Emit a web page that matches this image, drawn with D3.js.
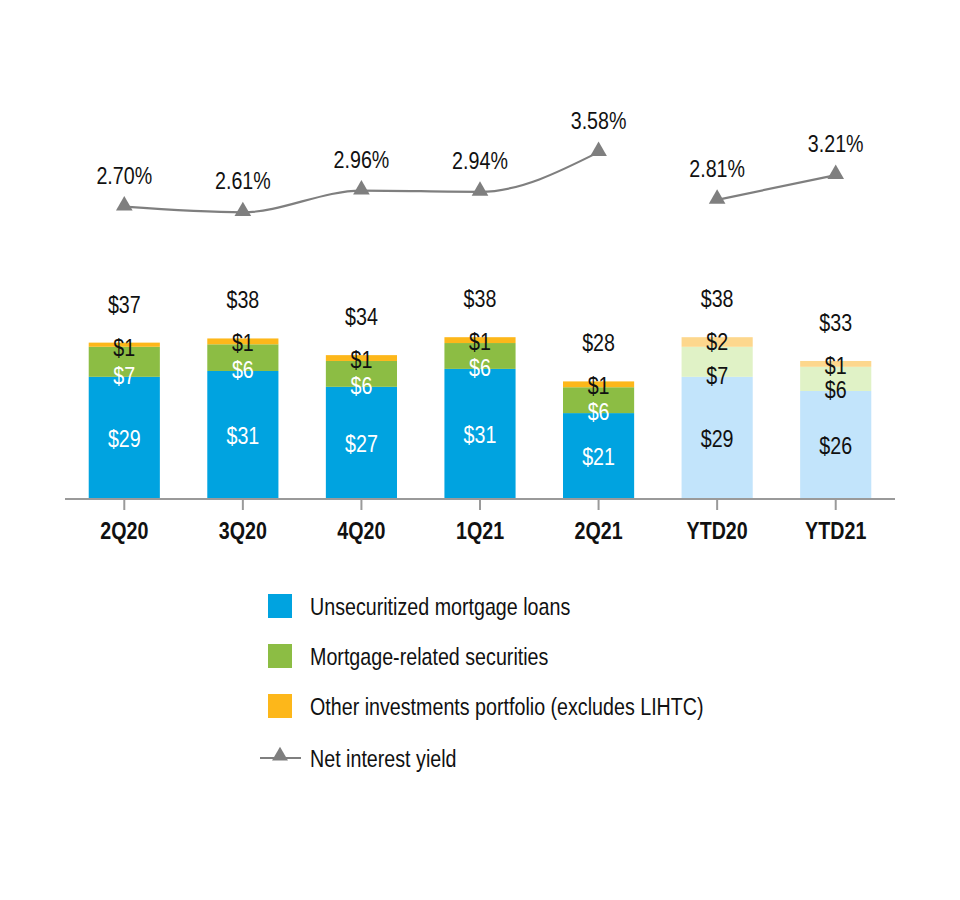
<!DOCTYPE html>
<html>
<head>
<meta charset="utf-8">
<script src="https://cdn.jsdelivr.net/npm/d3@7"></script>
<style>
  body { margin: 0; background: #fff; }
  svg text { font-family: "Liberation Sans", Arial, sans-serif; }
</style>
</head>
<body>
<svg id="chart" width="960" height="900"></svg>
<script>
// periods on the x axis
var periods = ["2Q20", "3Q20", "4Q20", "1Q21", "2Q21", "YTD20", "YTD21"];
var ytd = [false, false, false, false, false, true, true];

// average balances ($ billions)
var loans = [29.3, 30.7, 26.9, 31.2, 20.6, 29.3, 25.9];
var securities = [7.2, 6.4, 6.2, 6.2, 6.2, 7.2, 5.8];
var other = [1.0, 1.4, 1.4, 1.4, 1.4, 2.3, 1.4];
var totals = [37, 38, 34, 38, 28, 38, 33];

// net interest yield (%)
var yieldQtr = [2.70, 2.61, 2.96, 2.94, 3.58];
var yieldYtd = [2.81, 3.21];

var seriesNames = ["Unsecuritized mortgage loans", "Mortgage-related securities",
  "Other investments portfolio (excludes LIHTC)"];
var colors = ["#00a3e0", "#8cbd44", "#fdb71a"];
var lightColors = ["#c2e4fb", "#e0f2c6", "#fdd78d"];

var svg = d3.select("#chart");
var SX = 0.82; // squeeze the text, the source font is a condensed face
var FS = 24;

function place(sel, fx, fy) {
  return sel.attr("transform", function(d, i) {
    return "translate(" + fx(d, i) + "," + fy(d, i) + ") scale(" + SX + ",1)";
  });
}

var x = d3.scaleBand().domain(periods).range([65, 895]).paddingInner(0.4).paddingOuter(0.2);
var y = d3.scaleLinear().domain([0, 40]).range([499, 332.2]);
var yy = d3.scaleLinear().domain([2.5, 3.6]).range([219.1, 150.9]);

var rows = periods.map(function(p, i) {
  return {period: p, ytd: ytd[i], loans: loans[i], securities: securities[i], other: other[i]};
});
var keys = ["loans", "securities", "other"];
var stacked = d3.stack().keys(keys)(rows);

// bars
stacked.forEach(function(layer, li) {
  svg.append("g").selectAll("rect")
    .data(layer)
    .enter().append("rect")
    .attr("x", function(d) { return x(d.data.period); })
    .attr("width", x.bandwidth())
    .attr("y", function(d) { return y(d[1]); })
    .attr("height", function(d) { return y(d[0]) - y(d[1]); })
    .attr("fill", function(d) { return d.data.ytd ? lightColors[li] : colors[li]; });
});

var mid = function(p) { return x(p) + x.bandwidth() / 2; };

// axis
var axis = svg.append("g").attr("transform", "translate(0,499)");
axis.append("line").attr("x1", 65).attr("x2", 895).attr("stroke", "#9a9a9a").attr("stroke-width", 2);
axis.selectAll(".tick").data(periods).enter().append("line")
  .attr("x1", mid).attr("x2", mid)
  .attr("y1", 0).attr("y2", 11)
  .attr("stroke", "#9a9a9a").attr("stroke-width", 2);
place(axis.selectAll("text").data(periods).enter().append("text"), mid, function() { return 40; })
  .attr("text-anchor", "middle")
  .attr("font-size", FS).attr("font-weight", "bold")
  .attr("fill", "#111")
  .text(function(d) { return d; });

var fmt = function(v) { return "$" + Math.round(v); };
var cx = function(d) { return mid(d.data.period); };

// segment labels
var labels = svg.append("g").attr("text-anchor", "middle").attr("font-size", FS);
place(labels.selectAll(".lbl-loans").data(stacked[0]).enter().append("text"),
    cx, function(d) { return (y(d[0]) + y(d[1])) / 2 + 9; })
  .attr("fill", function(d) { return d.data.ytd ? "#111" : "#fff"; })
  .text(function(d) { return fmt(d.data.loans); });
place(labels.selectAll(".lbl-sec").data(stacked[1]).enter().append("text"),
    cx, function(d) { return y(d[0]) + 7; })
  .attr("fill", function(d) { return d.data.ytd ? "#111" : "#fff"; })
  .text(function(d) { return fmt(d.data.securities); });
place(labels.selectAll(".lbl-other").data(stacked[2]).enter().append("text"),
    cx, function(d) { return y(d[1]) + 13; })
  .attr("fill", "#111")
  .text(function(d) { return fmt(d.data.other); });
place(labels.selectAll(".lbl-total").data(stacked[2]).enter().append("text"),
    cx, function(d) { return y(d[1]) - 30; })
  .attr("fill", "#111")
  .text(function(d, i) { return "$" + totals[i]; });

// net interest yield line
var qtrPts = yieldQtr.map(function(v, i) { return [mid(periods[i]), yy(v), v]; });
var ytdPts = yieldYtd.map(function(v, i) { return [mid(periods[5 + i]), yy(v), v]; });
var line = d3.line().curve(d3.curveMonotoneX);
[qtrPts, ytdPts].forEach(function(pts) {
  svg.append("path").attr("d", line(pts.map(function(p) { return [p[0], p[1]]; })))
    .attr("fill", "none").attr("stroke", "#7f7f7f").attr("stroke-width", 2.2);
  svg.append("g").selectAll("path").data(pts).enter().append("path")
    .attr("d", d3.symbol().type(d3.symbolTriangle).size(120))
    .attr("transform", function(p) { return "translate(" + p[0] + "," + (p[1] - 1) + ")"; })
    .attr("fill", "#7f7f7f");
  place(svg.append("g").selectAll("text").data(pts).enter().append("text"),
      function(p) { return p[0]; }, function(p) { return p[1] - 23; })
    .attr("text-anchor", "middle").attr("font-size", FS).attr("fill", "#111")
    .text(function(p) { return p[2].toFixed(2) + "%"; });
});

// legend
var legend = svg.append("g").attr("font-size", FS).attr("fill", "#111");
seriesNames.forEach(function(name, i) {
  var ly = 594 + i * 50;
  legend.append("rect").attr("x", 268).attr("y", ly).attr("width", 24).attr("height", 24).attr("fill", colors[i]);
  place(legend.append("text"), function() { return 310; }, function() { return ly + 21; }).text(name);
});
legend.append("line").attr("x1", 260).attr("x2", 301).attr("y1", 758).attr("y2", 758)
  .attr("stroke", "#7f7f7f").attr("stroke-width", 2);
legend.append("path").attr("d", d3.symbol().type(d3.symbolTriangle).size(110))
  .attr("transform", "translate(280,756)").attr("fill", "#7f7f7f");
place(legend.append("text"), function() { return 310; }, function() { return 767; }).text("Net interest yield");
</script>
</body>
</html>
